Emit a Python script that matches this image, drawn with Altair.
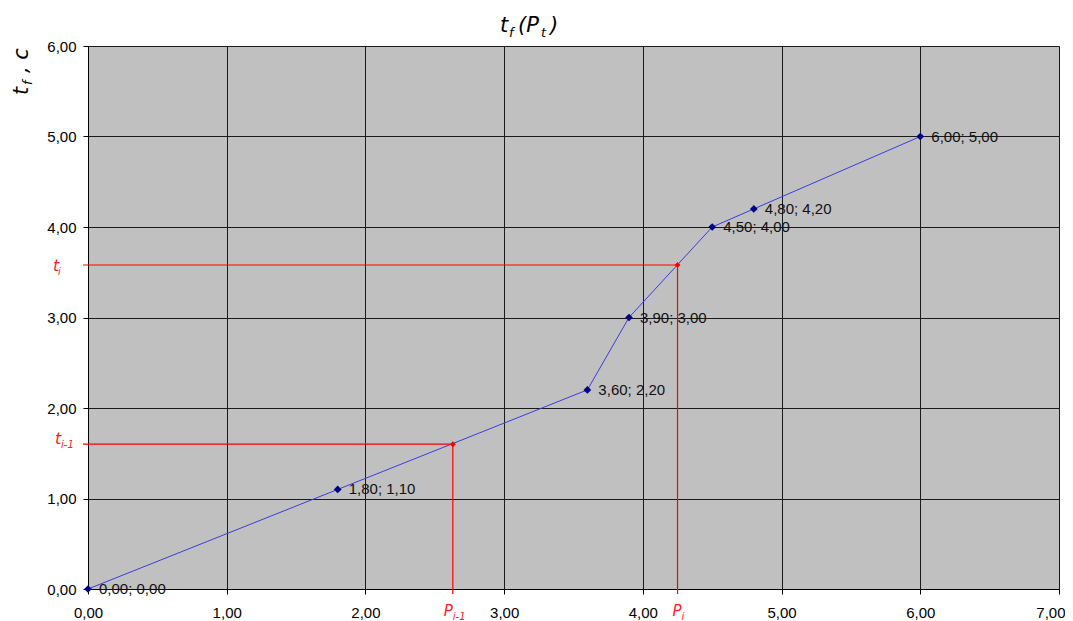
import altair as alt
import pandas as pd

# ---- data ----
P = [0.0, 1.8, 3.6, 3.9, 4.5, 4.8, 6.0]
T = [0.0, 1.1, 2.2, 3.0, 4.0, 4.2, 5.0]
P_RED = [2.63, 4.25]
T_RED = [1.60, 3.58]
X_TICKS = [0, 1, 2, 3, 4, 5, 6, 7]
Y_TICKS = [0, 1, 2, 3, 4, 5, 6]


def fmt(v):
    return f"{v:.2f}".replace(".", ",")


df = pd.DataFrame({"P": P, "t": T,
                   "label": [f"{fmt(p)}; {fmt(t)}" for p, t in zip(P, T)]})
red = pd.DataFrame({"P": P_RED, "t": T_RED})
red_lo = pd.DataFrame({"P": [P_RED[0]], "t": [T_RED[0]]})
red_hi = pd.DataFrame({"P": [P_RED[1]], "t": [T_RED[1]]})
one = pd.DataFrame({"a": [0]})

W, H = 971, 543
FONT = "Liberation Sans"
TFONT = "DejaVu Sans"
LBL = "replace(format(datum.value, '.2f'), '.', ',')"

x_enc = alt.X("P:Q", scale=alt.Scale(domain=[0, 7], nice=False, zero=False),
              axis=alt.Axis(values=X_TICKS, labelExpr=LBL, title=None,
                            labelPadding=11, labelFlush=False,
                            labelAlign={"condition": {"test": "datum.value == 7", "value": "right"},
                                        "value": "center"},
                            labelOffset={"condition": {"test": "datum.value == 7", "value": 6},
                                         "value": 0}))
y_enc = alt.Y("t:Q", scale=alt.Scale(domain=[0, 6], nice=False, zero=False),
              axis=alt.Axis(values=Y_TICKS, labelExpr=LBL, title=None,
                            labelPadding=7, labelFlush=False))

base = alt.Chart(df)

line = base.mark_line(color="#3c3cdc", strokeWidth=1).encode(x=x_enc, y=y_enc)
pts = base.mark_point(shape="diamond", filled=True, color="#000080",
                      size=60, opacity=1).encode(x=x_enc, y=y_enc)
labels = base.mark_text(align="left", baseline="middle", dx=11, font=FONT,
                        fontSize=15, color="#111111").encode(
    x=x_enc, y=y_enc, text="label:N")

# red construction lines
vrule = alt.Chart(red).mark_rule(color="#ff0000", strokeWidth=1.2).encode(
    x=x_enc, y=y_enc, y2=alt.value(H + 5))
hrule = alt.Chart(red).mark_rule(color="#ff0000", strokeWidth=1.2).encode(
    x=x_enc, y=y_enc, x2=alt.value(-5))
rpts = alt.Chart(red).mark_point(shape="diamond", filled=True, color="#ff0000",
                                 size=35, opacity=1).encode(x=x_enc, y=y_enc)

RED = "#ff2020"


def red_txt(data, text, size, dx=0, dy=0, xval=None, yval=None):
    enc = {}
    enc["x"] = alt.value(xval) if xval is not None else x_enc
    enc["y"] = alt.value(yval) if yval is not None else y_enc
    return alt.Chart(data).mark_text(
        text=text, align="left", baseline="alphabetic", font=TFONT,
        fontStyle="italic", fontSize=size, color=RED, dx=dx, dy=dy).encode(**enc)


red_labels = [
    red_txt(red_lo, "P", 15, dx=-9, yval=H + 27),
    red_txt(red_lo, "i-1", 10, dx=0, yval=H + 31),
    red_txt(red_hi, "P", 15, dx=-5, yval=H + 27),
    red_txt(red_hi, "i", 10, dx=4, yval=H + 31),
    red_txt(red_hi, "t", 16, xval=-35, dy=6),
    red_txt(red_hi, "i", 10, xval=-30, dy=10),
    red_txt(red_lo, "t", 16, xval=-33, dy=0),
    red_txt(red_lo, "i-1", 10, xval=-27, dy=4),
]


def piece(text, xv, yv, size, angle=0):
    return alt.Chart(one).mark_text(
        text=text, align="left", baseline="alphabetic", font=TFONT,
        fontStyle="italic", fontSize=size, color="black", angle=angle).encode(
        x=alt.value(xv), y=alt.value(yv))


title_pieces = [
    piece("t", 412, -14, 21),
    piece("f", 421, -9, 13),
    piece("(P", 430, -14, 21),
    piece("t", 453, -9, 13),
    piece(")", 462, -14, 21),
]
ytitle_pieces = [
    piece("t", -60, 49, 21, angle=270),
    piece("f", -56, 39, 13, angle=270),
    piece(", c", -60, 27, 21, angle=270),
]

chart = alt.layer(
    line, vrule, hrule, pts, rpts, labels, *red_labels, *title_pieces, *ytitle_pieces
).properties(
    width=W, height=H, autosize="none",
    padding={"left": 80, "top": 38, "right": 6, "bottom": 32},
    background="white",
).configure_view(
    fill="#c0c0c0", stroke="#808080", strokeWidth=1
).configure_axis(
    grid=True, gridColor="#1a1a1a", gridWidth=1, gridOpacity=1,
    domainColor="black", domainWidth=1, tickColor="black", tickSize=5,
    labelFont=FONT, labelFontSize=15, labelColor="black",
)

chart.save("out.html", embed_options={"renderer": "svg", "actions": False})
